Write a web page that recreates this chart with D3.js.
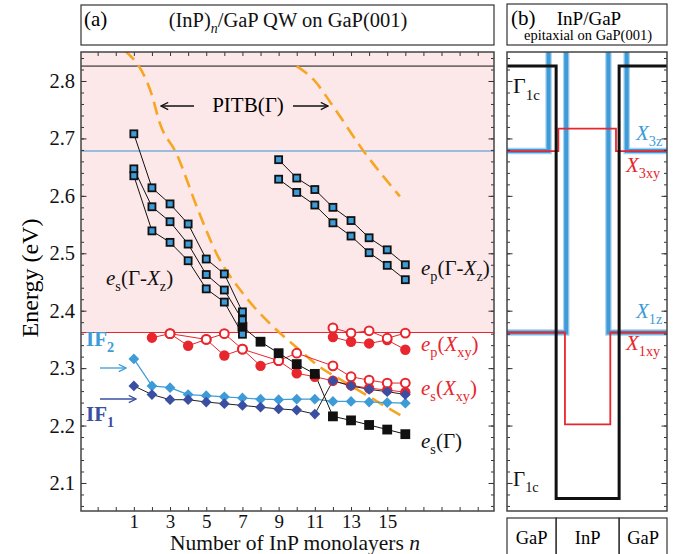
<!DOCTYPE html>
<html>
<head>
<meta charset="utf-8">
<script src="https://cdn.jsdelivr.net/npm/d3@7"></script>
<style>
  body { margin: 0; background: #fff; }
  svg { display: block; font-family: "Liberation Serif", "DejaVu Serif", serif; }
</style>
</head>
<body>
<svg id="chart" width="674" height="554"></svg>
<script>
// ---- values ----
const nTicks = d3.range(-1, 21);
const nLabels = [1, 3, 5, 7, 9, 11, 13, 15];
const energyMajor = [2.1, 2.2, 2.3, 2.4, 2.5, 2.6, 2.7, 2.8];
const energyMinor = d3.range(0, 40).map(i => +(2.06 + i * 0.02).toFixed(2));

const levelGamma1c = 2.826;
const levelX3 = 2.678;
const levelX1 = 2.362;

const esGXz = [
  [[1, 2.708], [2, 2.614], [3, 2.586], [4, 2.551], [5, 2.490], [6, 2.464], [7, 2.398]],
  [[1, 2.647], [2, 2.581], [3, 2.555], [4, 2.516], [5, 2.463], [6, 2.436], [7, 2.384]],
  [[1, 2.635], [2, 2.539], [3, 2.519], [4, 2.487], [5, 2.438], [6, 2.415], [7, 2.359]]
];
const epGXz = [
  [[9, 2.663], [10, 2.631], [11, 2.611], [12, 2.580], [13, 2.557], [14, 2.527], [15, 2.506], [16, 2.480]],
  [[9, 2.629], [10, 2.606], [11, 2.584], [12, 2.553], [13, 2.530], [14, 2.501], [15, 2.479], [16, 2.454]]
];
const esGamma = [[7, 2.372], [8, 2.346], [9, 2.326], [10, 2.307], [11, 2.290],
  [12, 2.216], [13, 2.209], [14, 2.201], [15, 2.193], [16, 2.185]];
const if1 = [[1, 2.269], [2, 2.254], [3, 2.245], [4, 2.245], [5, 2.241], [6, 2.238], [7, 2.235], [8, 2.232],
  [9, 2.229], [10, 2.227], [11, 2.220], [12, 2.278], [13, 2.269], [14, 2.263], [15, 2.259], [16, 2.254]];
const if2 = [[1, 2.316], [2, 2.269], [3, 2.266], [4, 2.254], [5, 2.252], [6, 2.250], [7, 2.248], [8, 2.246],
  [9, 2.245], [10, 2.246], [11, 2.246], [12, 2.242], [13, 2.242], [14, 2.241], [15, 2.240], [16, 2.239]];

// red X_xy states: [n, E, filled]
const xxyUpper = [[3, 2.360, 0], [5, 2.350, 0], [6, 2.360, 0], [7, 2.333, 0], [9, 2.313, 0], [10, 2.326, 0],
  [12, 2.304, 0], [13, 2.285, 0], [14, 2.279, 0], [15, 2.274, 0], [16, 2.274, 0]];
const xxyLower = [[2, 2.353, 1], [3, 2.360, 0], [4, 2.339, 1], [5, 2.350, 0], [6, 2.322, 1], [7, 2.333, 0],
  [8, 2.304, 1], [9, 2.313, 0], [10, 2.291, 1], [11, 2.285, 1], [12, 2.278, 1], [13, 2.270, 1],
  [14, 2.265, 1], [15, 2.262, 1], [16, 2.258, 1]];
const epXxyOpen = [[12, 2.370, 0], [13, 2.361, 0], [14, 2.365, 0], [15, 2.352, 0], [16, 2.361, 0]];
const epXxyFilled = [[12, 2.354, 1], [13, 2.346, 1], [14, 2.343, 1], [15, 2.349, 1], [16, 2.332, 1]];

const pitbLeft = [[0.5, 2.853], [2, 2.775], [2.43, 2.727], [3.35, 2.674], [4.54, 2.576], [5.56, 2.500],
  [7.03, 2.430], [8.7, 2.372], [10, 2.336], [11.1, 2.306], [12.75, 2.274], [16, 2.213]];
const pitbRight = [[10, 2.826], [11, 2.800], [11.9, 2.761], [13.65, 2.680], [15.7, 2.599]];

// panel (b) band profile, position in layer units (InP from 0 to 1)
const profGamma = [[-0.78, 2.826], [0, 2.826], [0, 2.073], [1, 2.073], [1, 2.826], [1.76, 2.826]];
const profX3zL = [[-0.78, 2.678], [-0.12, 2.678], [-0.12, 2.9]];
const profX3zR = [[1.12, 2.9], [1.12, 2.678], [1.76, 2.678]];
const profX1zL = [[-0.78, 2.362], [0.16, 2.362], [0.16, 2.9]];
const profX1zR = [[0.83, 2.9], [0.83, 2.362], [1.76, 2.362]];
const profX3xy = [[-0.78, 2.678], [0.035, 2.678], [0.035, 2.717], [0.95, 2.717], [0.95, 2.678], [1.76, 2.678]];
const profX1xy = [[-0.78, 2.362], [0.14, 2.362], [0.14, 2.202], [0.86, 2.202], [0.86, 2.362], [1.76, 2.362]];
const layers = [["GaP", -0.78, 0], ["InP", 0, 1], ["GaP", 1, 1.76]];

// ---- colours ----
const RED = "#e8262d", LBLUE = "#3d9bd8", DBLUE = "#3a4ea2", ORANGE = "#f6a623", PINK = "#fde8e9";

const svg = d3.select("#chart");
const yTop = 52, yBot = 511;
const x = d3.scaleLinear().domain([-1.92, 20.9]).range([81, 494]);
const y = d3.scaleLinear().domain([2.0512, 2.8505]).range([yBot, yTop]);
const xb = d3.scaleLinear().domain([-0.78, 1.76]).range([507, 667]);

const defs = svg.append("defs");
defs.append("clipPath").attr("id", "clipA")
  .append("rect").attr("x", 81).attr("y", yTop).attr("width", 413).attr("height", yBot - yTop);
defs.append("clipPath").attr("id", "clipB")
  .append("rect").attr("x", 507).attr("y", yTop).attr("width", 160).attr("height", yBot - yTop);
["arrBlack", "arrL", "arrD"].forEach((id, i) => {
  defs.append("marker").attr("id", id)
    .attr("viewBox", "0 0 10 10").attr("refX", 9).attr("refY", 5)
    .attr("markerWidth", 9).attr("markerHeight", 9).attr("markerUnits", "userSpaceOnUse")
    .attr("orient", "auto")
    .append("path").attr("d", "M1,1 L9,5 L1,9").attr("fill", "none")
    .attr("stroke", ["#111", LBLUE, DBLUE][i]).attr("stroke-width", 1.4);
});

// rich text with italic / subscript parts
function rich(g, px, py, parts, size, color, anchor, weight) {
  const t = g.append("text").attr("x", px).attr("y", py).attr("font-size", size)
    .attr("fill", color).attr("text-anchor", anchor || "start").attr("font-weight", weight || "normal");
  let shifted = false;
  parts.forEach(p => {
    const s = t.append("tspan").text(p.t);
    if (p.i) s.attr("font-style", "italic");
    if (p.sub && !shifted) { s.attr("dy", size * 0.3); shifted = true; }
    else if (!p.sub && shifted) { s.attr("dy", -size * 0.3); shifted = false; }
    if (p.sub) s.attr("font-size", size * 0.68);
  });
  return t;
}

// ---- title boxes ----
svg.append("rect").attr("x", 81).attr("y", 5).attr("width", 413).attr("height", 40)
  .attr("fill", "none").attr("stroke", "#333").attr("stroke-width", 1.2);
svg.append("text").attr("x", 84).attr("y", 26).attr("font-size", 21).text("(a)");
rich(svg, 288, 27, [{t: "(InP)"}, {t: "n", i: true, sub: true}, {t: "/GaP QW on GaP(001)"}], 20.5, "#111", "middle");

svg.append("rect").attr("x", 507).attr("y", 4).attr("width", 160).attr("height", 41)
  .attr("fill", "none").attr("stroke", "#333").attr("stroke-width", 1.2);
svg.append("text").attr("x", 511).attr("y", 25).attr("font-size", 21).text("(b)");
svg.append("text").attr("x", 589).attr("y", 25).attr("font-size", 19).attr("text-anchor", "middle").text("InP/GaP");
svg.append("text").attr("x", 588).attr("y", 40).attr("font-size", 14.5).attr("text-anchor", "middle").text("epitaxial on GaP(001)");

// ---- panel (a) ----
const gA = svg.append("g");
const plotA = gA.append("g").attr("clip-path", "url(#clipA)");
plotA.append("rect").attr("x", 81).attr("y", yTop).attr("width", 413)
  .attr("height", y(levelX1) - yTop).attr("fill", PINK);
plotA.append("line").attr("x1", 81).attr("x2", 494).attr("y1", y(levelGamma1c)).attr("y2", y(levelGamma1c))
  .attr("stroke", "#111").attr("stroke-width", 1);
plotA.append("line").attr("x1", 81).attr("x2", 494).attr("y1", y(levelX3)).attr("y2", y(levelX3))
  .attr("stroke", "#79aedb").attr("stroke-width", 1.5);
plotA.append("line").attr("x1", 81).attr("x2", 494).attr("y1", y(levelX1)).attr("y2", y(levelX1))
  .attr("stroke", RED).attr("stroke-width", 1.2);

const curve = d3.line().x(d => x(d[0])).y(d => y(d[1])).curve(d3.curveMonotoneX);
[pitbLeft, pitbRight].forEach(pts => {
  plotA.append("path").attr("d", curve(pts)).attr("fill", "none")
    .attr("stroke", ORANGE).attr("stroke-width", 2.6).attr("stroke-dasharray", "13,7");
});

const line = d3.line().x(d => x(d[0])).y(d => y(d[1]));
function drawLine(pts, color, w) {
  plotA.append("path").attr("d", line(pts)).attr("fill", "none").attr("stroke", color).attr("stroke-width", w || 1);
}
[xxyUpper, xxyLower, epXxyOpen, epXxyFilled].forEach(s => drawLine(s, RED, 1));
drawLine(if2, LBLUE, 1.2);
drawLine(if1, "#222", 1);
esGXz.forEach(s => drawLine(s, "#111", 1));
epGXz.forEach(s => drawLine(s, "#111", 1));
drawLine(esGamma, "#111", 1);

// markers
const circles = [].concat(xxyLower, xxyUpper, epXxyFilled, epXxyOpen);
plotA.selectAll("circle.xxy").data(circles).join("circle").attr("class", "xxy")
  .attr("cx", d => x(d[0])).attr("cy", d => y(d[1])).attr("r", d => d[2] ? 5.2 : 4.4)
  .attr("fill", d => d[2] ? RED : "#fff").attr("stroke", RED).attr("stroke-width", d => d[2] ? 0 : 2);

function diamonds(data, color) {
  plotA.append("g").selectAll("rect").data(data).join("rect")
    .attr("x", -3.8).attr("y", -3.8).attr("width", 7.6).attr("height", 7.6)
    .attr("transform", d => `translate(${x(d[0])},${y(d[1])}) rotate(45)`)
    .attr("fill", color);
}
diamonds(if2, LBLUE);
diamonds(if1, DBLUE);

function squares(data, fill, s) {
  plotA.append("g").selectAll("rect").data(data).join("rect")
    .attr("x", d => x(d[0]) - s / 2).attr("y", d => y(d[1]) - s / 2)
    .attr("width", s).attr("height", s)
    .attr("fill", fill).attr("stroke", "#111").attr("stroke-width", 1.8);
}
squares(esGamma, "#111", 8);
esGXz.forEach(s => squares(s, LBLUE, 7));
epGXz.forEach(s => squares(s, LBLUE, 7));

// axes (inward ticks)
function ticksY(g, xpos, dir, labels) {
  const minor = (dir < 0 ? d3.axisLeft(y) : d3.axisRight(y)).tickValues(energyMinor).tickSize(-3).tickFormat("");
  const major = (dir < 0 ? d3.axisLeft(y) : d3.axisRight(y)).tickValues(energyMajor).tickSize(-5.5)
    .tickPadding(6).tickFormat(labels ? d3.format(".1f") : "");
  [minor, major].forEach(a => {
    const ga = g.append("g").attr("transform", `translate(${xpos},0)`).call(a);
    ga.select(".domain").remove();
    ga.attr("font-family", null);
    ga.selectAll("line").attr("stroke", "#333").attr("stroke-width", 1);
    ga.selectAll("text").attr("font-size", 20.5).attr("fill", "#111");
  });
}
ticksY(gA, 81, -1, true);
ticksY(gA, 494, 1, false);

const xb1 = gA.append("g").attr("transform", `translate(0,${yBot})`)
  .call(d3.axisBottom(x).tickValues(nTicks).tickSize(-4).tickPadding(3)
    .tickFormat(d => nLabels.includes(d) ? d : ""));
const xt1 = gA.append("g").attr("transform", `translate(0,${yTop})`)
  .call(d3.axisTop(x).tickValues(nTicks).tickSize(-4).tickFormat(""));
[xb1, xt1].forEach(ga => {
  ga.select(".domain").remove();
  ga.attr("font-family", null);
  ga.selectAll("line").attr("stroke", "#333");
  ga.selectAll("text").attr("font-size", 19).attr("fill", "#111");
});
gA.append("rect").attr("x", 81).attr("y", yTop).attr("width", 413).attr("height", yBot - yTop)
  .attr("fill", "none").attr("stroke", "#444").attr("stroke-width", 1.5);

svg.append("text").attr("transform", "translate(38,278) rotate(-90)").attr("text-anchor", "middle")
  .attr("font-size", 24).text("Energy (eV)");
rich(svg, 170, 550, [{t: "Number of InP monolayers "}, {t: "n", i: true}], 21.5, "#111", "start");

// annotations panel (a)
svg.append("text").attr("x", 248).attr("y", 112).attr("font-size", 21).attr("text-anchor", "middle").text("PITB(Γ)");
svg.append("line").attr("x1", 194).attr("x2", 161).attr("y1", 106).attr("y2", 106)
  .attr("stroke", "#111").attr("stroke-width", 1.3).attr("marker-end", "url(#arrBlack)");
svg.append("line").attr("x1", 293).attr("x2", 328).attr("y1", 106).attr("y2", 106)
  .attr("stroke", "#111").attr("stroke-width", 1.3).attr("marker-end", "url(#arrBlack)");

rich(svg, 106, 285, [{t: "e", i: true}, {t: "s", sub: true}, {t: "(Γ-"}, {t: "X", i: true}, {t: "z", sub: true}, {t: ")"}], 21, "#111");
rich(svg, 421, 275, [{t: "e", i: true}, {t: "p", sub: true}, {t: "(Γ-"}, {t: "X", i: true}, {t: "z", sub: true}, {t: ")"}], 21, "#111");
rich(svg, 421, 351, [{t: "e", i: true}, {t: "p", sub: true}, {t: "("}, {t: "X", i: true}, {t: "xy", sub: true}, {t: ")"}], 21, RED);
rich(svg, 421, 395, [{t: "e", i: true}, {t: "s", sub: true}, {t: "("}, {t: "X", i: true}, {t: "xy", sub: true}, {t: ")"}], 21, RED);
rich(svg, 421, 448, [{t: "e", i: true}, {t: "s", sub: true}, {t: "(Γ)"}], 21, "#111");

rich(svg, 86, 346, [{t: "IF"}, {t: "2", sub: true}], 21, LBLUE, "start", "bold");
rich(svg, 86, 421, [{t: "IF"}, {t: "1", sub: true}], 21, DBLUE, "start", "bold");
svg.append("line").attr("x1", 100).attr("x2", 126).attr("y1", 368).attr("y2", 368)
  .attr("stroke", LBLUE).attr("stroke-width", 1.3).attr("marker-end", "url(#arrL)");
svg.append("line").attr("x1", 100).attr("x2", 136).attr("y1", 399).attr("y2", 399)
  .attr("stroke", DBLUE).attr("stroke-width", 1.3).attr("marker-end", "url(#arrD)");

// ---- panel (b) ----
const gB = svg.append("g");
const plotB = gB.append("g").attr("clip-path", "url(#clipB)");
const lineB = d3.line().x(d => xb(d[0])).y(d => y(d[1]));
[profX3zL, profX3zR, profX1zL, profX1zR].forEach(p => {
  plotB.append("path").attr("d", lineB(p)).attr("fill", "none").attr("stroke", "#a9d0ee").attr("stroke-width", 6.5);
  plotB.append("path").attr("d", lineB(p)).attr("fill", "none").attr("stroke", LBLUE).attr("stroke-width", 4);
});
[profX3xy, profX1xy].forEach(p => {
  plotB.append("path").attr("d", lineB(p)).attr("fill", "none").attr("stroke", RED).attr("stroke-width", 1.8);
});
plotB.append("path").attr("d", lineB(profGamma)).attr("fill", "none").attr("stroke", "#111").attr("stroke-width", 3);

ticksY(gB, 507, -1, false);
ticksY(gB, 667, 1, false);
gB.append("rect").attr("x", 507).attr("y", yTop).attr("width", 160).attr("height", yBot - yTop)
  .attr("fill", "none").attr("stroke", "#444").attr("stroke-width", 1.5);

rich(gB, 513, 93, [{t: "Γ"}, {t: "1c", sub: true}], 22, "#111");
rich(gB, 513, 486, [{t: "Γ"}, {t: "1c", sub: true}], 21, "#111");
rich(gB, 636, 140, [{t: "X", i: true}, {t: "3z", sub: true}], 21, LBLUE);
rich(gB, 626, 172, [{t: "X", i: true}, {t: "3xy", sub: true}], 21, RED);
rich(gB, 636, 318, [{t: "X", i: true}, {t: "1z", sub: true}], 21, LBLUE);
rich(gB, 626, 350, [{t: "X", i: true}, {t: "1xy", sub: true}], 21, RED);

// layer table under panel (b)
const tbl = gB.append("g");
tbl.selectAll("rect").data(layers).join("rect")
  .attr("x", d => xb(d[1])).attr("y", 518).attr("width", d => xb(d[2]) - xb(d[1])).attr("height", 45)
  .attr("fill", "none").attr("stroke", "#333").attr("stroke-width", 1.2);
tbl.selectAll("text").data(layers).join("text")
  .attr("x", d => (xb(d[1]) + xb(d[2])) / 2).attr("y", 544).attr("text-anchor", "middle")
  .attr("font-size", 18.5).text(d => d[0]);
</script>
</body>
</html>
